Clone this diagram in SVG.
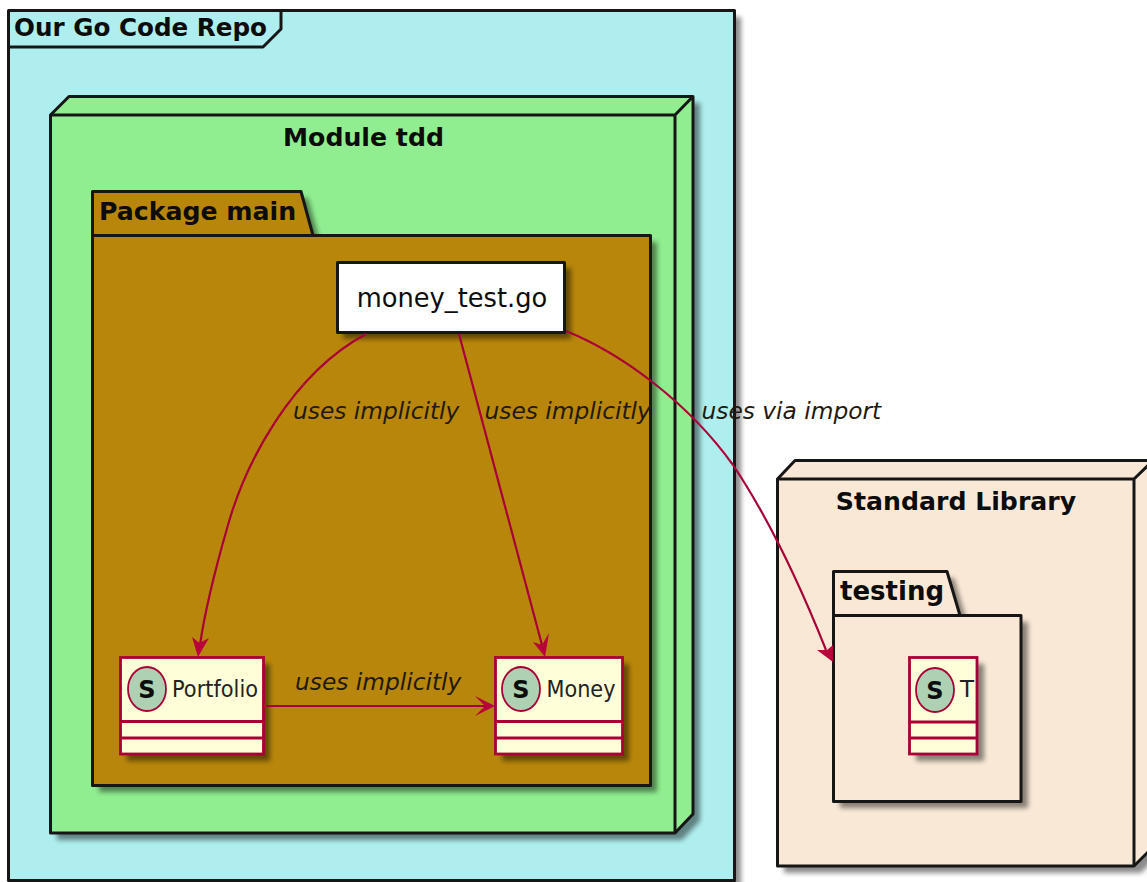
<svg xmlns="http://www.w3.org/2000/svg" width="1147" height="882" viewBox="0 0 1147 882">
<style>
text{font-family:"DejaVu Sans",sans-serif;fill:#0c0c0c}
.t{font-weight:700;font-size:25.2px}
.l{font-style:italic;font-size:23.3px;fill:#1f1a10}
.b{stroke:#161616;stroke-width:3;stroke-linejoin:round}
.c{fill:#fefed8;stroke:#a80036;stroke-width:2.8}
.d{stroke:#a80036;stroke-width:2.8;fill:none}
.o{fill:#add1b2;stroke:#a80036;stroke-width:1.8}
.s{font-weight:700;font-size:24px;text-anchor:middle}
.n{font-size:23px;fill:#222}
.e{fill:none;stroke:#a80036;stroke-width:2.2}
.a{fill:#b8003a}
.sh{filter:url(#blur);fill:#000;opacity:.45}
</style>
<defs>
<filter id="blur" x="-5%" y="-5%" width="110%" height="110%"><feGaussianBlur stdDeviation="2.5"/></filter>
</defs>
<rect width="1147" height="882" fill="#fff"/>
<g id="frame-repo">
<rect class="sh" x="15" y="17" width="726" height="870"/>
<rect class="b" x="8.500" y="10.500" width="726" height="870" fill="#afeeee"/>
<path class="b" d="M8.500 47H263L281 29V10.500" fill="none"/>
<text class="t" x="14" y="36" textLength="253" lengthAdjust="spacingAndGlyphs">Our Go Code Repo</text>
</g>
<g id="node-module">
<path class="sh" d="M57 122L76 103H700V821L682 840H57Z"/>
<path class="b" d="M50.500 115L69 96.500H693V814L675 833H50.500Z" fill="#90ee90"/>
<path class="b" d="M50.500 115H675V833M675 115L693 96.500" fill="none"/>
<text class="t" x="363.500" y="146" text-anchor="middle">Module tdd</text>
</g>
<g id="package-main">
<path class="sh" d="M99 198H308L320 242H657V792H99Z"/>
<path class="b" d="M92.500 191.500H301L313 235.500H650.500V785.500H92.500Z" fill="#b8860b"/>
<path class="b" d="M92.500 235.500H313" fill="none"/>
<text class="t" x="99" y="220">Package main</text>
</g>
<g id="node-money-test">
<rect class="sh" x="343" y="268" width="228" height="71"/>
<rect class="b" x="337.500" y="262.500" width="227" height="70" fill="#fff"/>
<text x="452" y="307" font-size="25.700" text-anchor="middle" fill="#1a1a1a">money_test.go</text>
</g>
<g id="class-portfolio">
<rect class="sh" x="127" y="664" width="143" height="97"/>
<rect class="c" x="120.500" y="657.500" width="143" height="96.500"/>
<path class="d" d="M120.500 721.500H263.500M120.500 738H263.500"/>
<ellipse class="o" cx="147" cy="689" rx="19" ry="22"/>
<text class="s" x="147" y="698">S</text>
<text class="n" x="172" y="697" textLength="86" lengthAdjust="spacingAndGlyphs">Portfolio</text>
</g>
<g id="class-money">
<rect class="sh" x="502" y="664" width="127" height="97"/>
<rect class="c" x="495.500" y="657.500" width="127" height="96.500"/>
<path class="d" d="M495.500 721.500H622.500M495.500 738H622.500"/>
<ellipse class="o" cx="521" cy="689" rx="19" ry="22"/>
<text class="s" x="521" y="698">S</text>
<text class="n" x="546.500" y="697" textLength="69" lengthAdjust="spacingAndGlyphs">Money</text>
</g>
<g id="node-stdlib">
<path class="sh" d="M784 486L802 467H1160V854L1141 873H784Z"/>
<path class="b" d="M777.500 479L795 460.500H1153V847L1134 866H777.500Z" fill="#f9e8d6"/>
<path class="b" d="M777.500 479H1134V866M1134 479L1153 460.500" fill="none"/>
<text class="t" x="956" y="510" text-anchor="middle">Standard Library</text>
</g>
<g id="package-testing">
<path class="sh" d="M840 578H954L967 622H1028V808H840Z"/>
<path class="b" d="M833.500 571.500H947L960 615.500H1021V801.500H833.500Z" fill="#f9e8d6"/>
<path class="b" d="M833.500 615.500H960" fill="none"/>
<text class="t" x="840" y="600" style="font-size:26px">testing</text>
</g>
<g id="class-t">
<rect class="sh" x="916" y="664" width="68" height="97"/>
<rect class="c" x="909.500" y="657.500" width="67.500" height="96.500"/>
<path class="d" d="M909.500 722H977M909.500 738H977"/>
<ellipse class="o" cx="935" cy="690" rx="19" ry="22"/>
<text class="s" x="935" y="699">S</text>
<text class="n" x="960" y="697">T</text>
</g>
<g id="connectors">
<path class="e" d="M366 334C290 375 245 465 228 525C215 570 205 610 200 645"/>
<path class="a" d="M198 657L192 637L199.500 643L209 638Z"/>
<path class="e" d="M459 334L542 645"/>
<path class="a" d="M545 657L533 642L542 645L549 633Z"/>
<path class="e" d="M263 706H486"/>
<path class="a" d="M495 706L475 696L485 706L475 716Z"/>
<path class="e" d="M566 331C625 355 690 405 733 465C770 520 800 585 826 650"/>
<path class="a" d="M833 662L817 650L827 650L833 645Z"/>
</g>
<g id="labels">
<text class="l" x="293" y="419">uses implicitly</text>
<text class="l" x="484.500" y="419">uses implicitly</text>
<text class="l" x="701.500" y="419">uses via import</text>
<text class="l" x="295" y="690">uses implicitly</text>
</g>
</svg>
